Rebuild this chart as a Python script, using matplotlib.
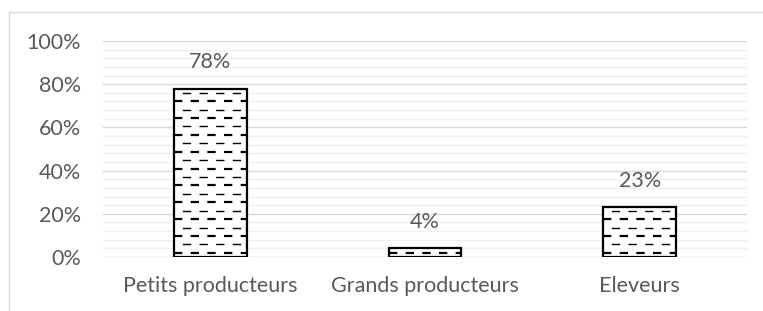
import numpy as np
import matplotlib.pyplot as plt
from matplotlib.patches import Rectangle

categories = ["Petits producteurs", "Grands producteurs", "Eleveurs"]
values = [78, 4, 23]
value_labels = ["78%", "4%", "23%"]
yticks = [0, 20, 40, 60, 80, 100]
ytick_labels = ["0%", "20%", "40%", "60%", "80%", "100%"]

plt.rcParams['font.family'] = ['Lato', 'DejaVu Sans']
plt.rcParams['lines.scale_dashes'] = False
text_col = '#595959'

fig = plt.figure(figsize=(7.63, 3.11), dpi=100)
ax = fig.add_axes([103 / 763, 1 - 257 / 311, 644 / 763, 216 / 311])

x = np.arange(len(categories))
bars = ax.bar(x, values, width=0.337, color='white', edgecolor='black',
              linewidth=1.6, zorder=3)

# dashed fill pattern, clipped to each bar
row = 3.9
for b in bars:
    x0, w, h = b.get_x(), b.get_width(), b.get_height()
    ys = np.arange(row / 2, h, row)
    for i, yy in enumerate(ys):
        off = 0 if i % 2 == 0 else 6
        lw = 1.6 if i % 2 == 0 else 1.0
        ln, = ax.plot([x0, x0 + w], [yy, yy], color='black', lw=lw,
                      linestyle=(off, (6, 6)), dash_capstyle='butt', zorder=4)
        ln.set_clip_path(b)

for xi, v, lab in zip(x, values, value_labels):
    ax.text(xi, v + 7.5, lab, ha='center', va='bottom', fontsize=15.5,
            color=text_col)

ax.set_xlim(-0.5, 2.5)
ax.set_ylim(0, 100)
ax.set_yticks(yticks)
ax.set_yticklabels(ytick_labels)
ax.set_yticks(np.arange(0, 101, 4), minor=True)
ax.set_xticks(x)
ax.set_xticklabels(categories)
ax.tick_params(axis='both', length=0, labelsize=15.5, labelcolor=text_col)
ax.tick_params(axis='y', which='minor', length=0)
ax.tick_params(axis='x', pad=14)
ax.tick_params(axis='y', pad=16)
ax.grid(axis='y', which='minor', color='#f0f0f0', lw=1, zorder=0)
ax.grid(axis='y', which='major', color='#d9d9d9', lw=1, zorder=1)
for s in ax.spines.values():
    s.set_visible(False)

# chart area border (left and top visible)
fig.add_artist(Rectangle((9 / 763, -0.1), 1, 1 - 12 / 311 + 0.1,
                         transform=fig.transFigure, fill=False,
                         edgecolor='#d9d9d9', lw=1))

fig.savefig('out.png', dpi=100)
